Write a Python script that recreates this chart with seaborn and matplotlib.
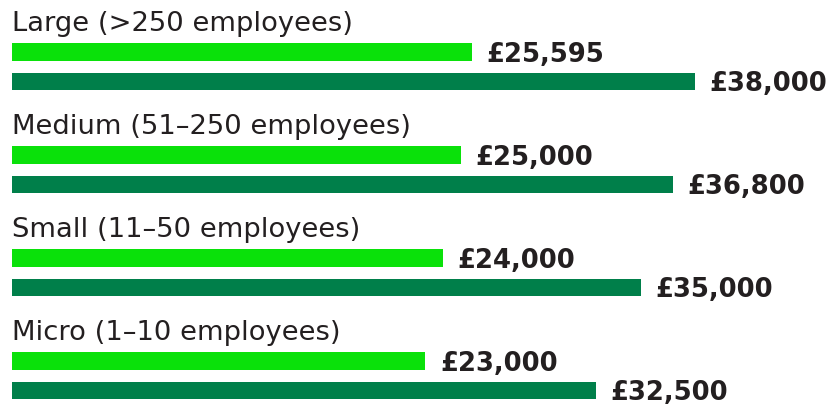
import matplotlib
matplotlib.use("Agg")
import matplotlib.pyplot as plt
import pandas as pd
import seaborn as sns

# Business size bands and the two pay figures for each band
sizes = [
    "Large (>250 employees)",
    "Medium (51–250 employees)",
    "Small (11–50 employees)",
    "Micro (1–10 employees)",
]
lower_pay = [25595, 25000, 24000, 23000]
upper_pay = [38000, 36800, 35000, 32500]
series_names = ["Lower", "Upper"]

LIGHT = "#0ae10a"
DARK = "#007f4a"
TEXT = "#231f20"

rows = []
for s, lo, hi in zip(sizes, lower_pay, upper_pay):
    rows.append({"size": s, "series": series_names[0], "pay": lo})
    rows.append({"size": s, "series": series_names[1], "pay": hi})
df = pd.DataFrame(rows)

sns.set_theme(style="white")
plt.rcParams["font.family"] = ["DejaVu Sans"]

fig = plt.figure(figsize=(8.35, 4.07), dpi=100)
ax = fig.add_axes([0, 0, 1, 1])

sns.barplot(
    data=df, y="size", x="pay", hue="series", orient="h",
    order=sizes, hue_order=series_names,
    palette=[LIGHT, DARK], saturation=1,
    width=0.573, gap=0.405, dodge=True,
    errorbar=None, legend=False, linewidth=0, ax=ax,
)

ax.set_xlim(-668, 45800)
ax.set_ylim(3.304, -0.648)
ax.axis("off")

# Group headings above each pair of bars
for i, s in enumerate(sizes):
    ax.text(0, i - 0.345, s, ha="left", va="baseline",
            fontsize=19.7, color=TEXT)

# Value labels at the end of each bar
for container in ax.containers:
    for bar in container:
        w = bar.get_width()
        yc = bar.get_y() + bar.get_height() / 2
        ax.annotate(f"£{w:,.0f}", xy=(w, yc + 0.097),
                    xytext=(10.5, 0), textcoords="offset points",
                    ha="left", va="baseline", fontsize=18.6,
                    fontweight="bold", color=TEXT)

fig.savefig("out.png", dpi=100, facecolor="white")
